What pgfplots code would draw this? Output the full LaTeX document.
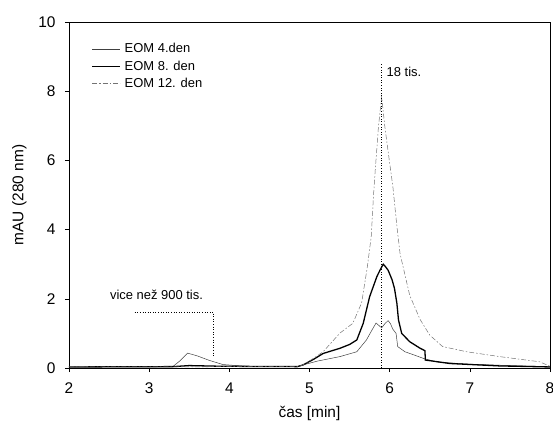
\documentclass[border=0pt]{standalone}
\usepackage{pgfplots}
\pgfplotsset{compat=1.18}
\usepackage{fontspec}
\setmainfont{Liberation Sans}
\begin{document}
\begin{tikzpicture}
\begin{axis}[
  name=ax,
  scale only axis,
  width=481bp, height=346bp,
  xmin=2, xmax=8, ymin=0, ymax=10,
  xtick={2,3,4,5,6,7,8}, ytick={0,2,4,6,8,10},
  tick align=outside, xtick pos=lower, ytick pos=left,
  major tick length=4bp,
  tick style={black, line width=0.5pt},
  axis line style={line width=0.6pt},
  /pgf/number format/assume math mode=true,
  ticklabel style={font=\fontsize{15.5}{18}\selectfont},
  xticklabel style={yshift=-7bp},
  yticklabel style={xshift=-6bp},
  label style={font=\fontsize{15.5}{18}\selectfont},
  xlabel={čas [min]},
  ylabel={mAU (280 nm)},
  xlabel style={yshift=-6bp},
  ylabel style={yshift=5bp},
  legend cell align=left,
  legend style={draw=none, fill=none, at={(rel axis cs:0.04,0.95)}, anchor=north west,
    font=\fontsize{13}{15}\selectfont, row sep=2.5bp, nodes={inner xsep=4bp}},
  legend image code/.code={\draw[#1] (0bp,0bp) -- (28bp,0bp);},
]
\addplot[line width=0.5pt, black!75] coordinates {
(2,0.03)(3.0,0.03)(3.3,0.05)(3.38,0.2)(3.48,0.43)(3.6,0.35)(3.75,0.22)(3.92,0.1)(4.2,0.05)(4.85,0.04)
(4.92,0.09)(5.1,0.2)(5.38,0.33)(5.59,0.47)(5.71,0.81)(5.78,1.1)(5.83,1.30)(5.87,1.22)(5.90,1.16)
(5.94,1.28)(5.98,1.37)(6.01,1.28)(6.04,1.12)(6.08,1.0)(6.10,0.62)(6.19,0.47)(6.30,0.38)(6.43,0.27)
(6.6,0.17)(7.0,0.11)(7.5,0.07)(8,0.04)};
\addlegendentry{EOM 4.den}
\addplot[line width=1.3pt, black] coordinates {
(2,0.03)(3.3,0.04)(3.5,0.07)(3.9,0.05)(4.85,0.04)(4.92,0.09)(5.05,0.25)(5.17,0.42)(5.38,0.57)
(5.5,0.68)(5.59,0.81)(5.67,1.29)(5.75,2.06)(5.84,2.64)(5.88,2.83)(5.92,3.0)(5.94,2.95)(5.98,2.83)
(6.03,2.55)(6.06,2.3)(6.09,1.87)(6.11,1.39)(6.15,1.0)(6.25,0.76)(6.38,0.57)(6.44,0.50)(6.445,0.23)
(6.75,0.13)(7.37,0.06)(8,0.03)};
\addlegendentry{EOM 8. den}
\addplot[line width=0.5pt, black!55, dash pattern=on 5bp off 2bp on 1.5bp off 2bp] coordinates {
(2,0.03)(4.85,0.04)(4.92,0.09)(5.05,0.28)(5.17,0.47)(5.38,1.01)(5.54,1.29)(5.65,1.88)(5.72,2.9)
(5.77,3.8)(5.80,5.05)(5.82,5.72)(5.86,6.97)(5.90,7.84)(5.94,6.97)(6.00,5.92)(6.04,5.24)(6.09,4.1)
(6.13,3.3)(6.17,2.9)(6.25,2.1)(6.38,1.4)(6.5,0.95)(6.66,0.62)(6.96,0.47)(7.37,0.33)(7.87,0.18)(8,0.05)};
\addlegendentry{EOM 12. den}
\addplot[dotted, line width=0.6pt, black, forget plot] coordinates {(5.9,0)(5.9,8.8)};
\addplot[dotted, line width=0.6pt, black, forget plot] coordinates {(2.82,1.62)(3.80,1.62)(3.80,0.3)};
\node[anchor=west, font=\fontsize{13}{15}\selectfont, inner sep=0pt] at (axis cs:5.96,8.55) {18 tis.};
\node[anchor=west, font=\fontsize{13}{15}\selectfont, inner sep=0pt] at (axis cs:2.51,2.11) {vice než 900 tis.};
\end{axis}
\pgfresetboundingbox
\path ([shift={(-69bp,-62bp)}]ax.south west) rectangle ([shift={(3bp,22bp)}]ax.north east);
\end{tikzpicture}
\end{document}
